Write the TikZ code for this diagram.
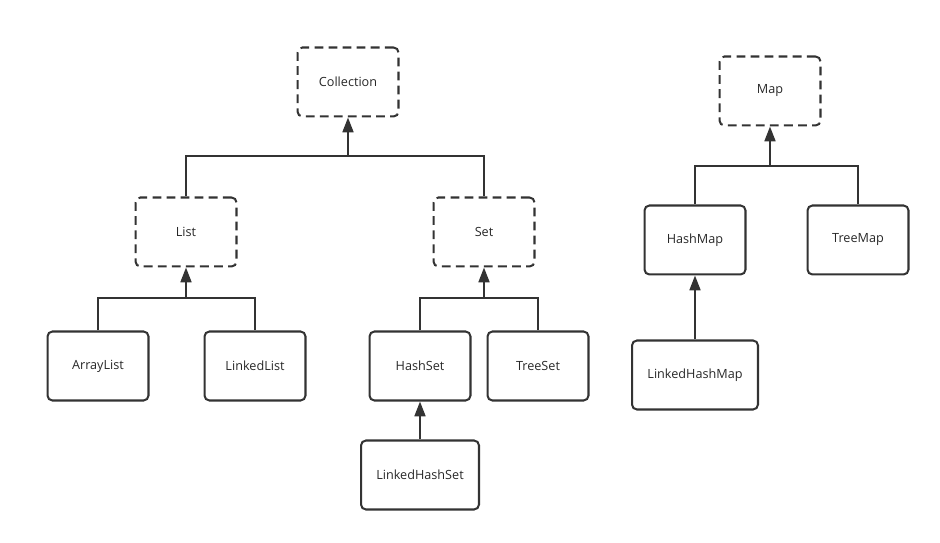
\documentclass[tikz,border=0pt]{standalone}
\usepackage{fontspec}
\setmainfont{Open Sans}
\usepackage{tikz}
\usetikzlibrary{arrows.meta}
\definecolor{Cline}{RGB}{51,51,51}
\definecolor{Ctext}{RGB}{40,40,40}
\tikzset{
  cls/.style={draw=Cline, line width=1.15pt, rounded corners=2.8pt,
    minimum width=2.02cm, minimum height=1.38cm, text=Ctext,
    font=\fontsize{7.2}{8}\selectfont, inner sep=0pt},
  iface/.style={cls, dash pattern=on 5pt off 3pt},
  link/.style={draw=Cline, line width=1.15pt},
  inherit/.style={link, -{Triangle[width=6.2pt,length=8.4pt]}}
}
\begin{document}
\begin{tikzpicture}[x=0.02cm,y=-0.02cm]
  \useasboundingbox (0,0) rectangle (940,543);

  % ------------------------------------------------
  % Collection side
  % ------------------------------------------------
  \node[iface] (collection) at (348,82) {Collection};
  \node[iface] (list) at (186,232) {List};
  \node[iface] (set)  at (484,232) {Set};

  \node[cls] (arraylist)  at (98,366)  {ArrayList};
  \node[cls] (linkedlist) at (255,366) {LinkedList};
  \node[cls] (hashset)    at (420,366) {HashSet};
  \node[cls] (treeset)    at (538,366) {TreeSet};
  \node[cls, minimum width=2.36cm] (linkedhashset) at (420,475) {LinkedHashSet};

  % ------------------------------------------------
  % Map side
  % ------------------------------------------------
  \node[iface] (map) at (770,91) {Map};
  \node[cls] (hashmap) at (695,240) {HashMap};
  \node[cls] (treemap) at (858,240) {TreeMap};
  \node[cls, minimum width=2.52cm] (linkedhashmap) at (695,375) {LinkedHashMap};

  % bus points
  \coordinate (colbus)  at (348,156);
  \coordinate (listbus) at (186,298);
  \coordinate (setbus)  at (484,298);
  \coordinate (mapbus)  at (770,166);

  % connectors
  \draw[link] (list.north) |- (colbus) -| (set.north);
  \draw[inherit] (colbus) -- (collection.south);

  \draw[link] (arraylist.north) |- (listbus) -| (linkedlist.north);
  \draw[inherit] (listbus) -- (list.south);

  \draw[link] (hashset.north) |- (setbus) -| (treeset.north);
  \draw[inherit] (setbus) -- (set.south);
  \draw[inherit] (linkedhashset.north) -- (hashset.south);

  \draw[link] (hashmap.north) |- (mapbus) -| (treemap.north);
  \draw[inherit] (mapbus) -- (map.south);
  \draw[inherit] (linkedhashmap.north) -- (hashmap.south);
\end{tikzpicture}
\end{document}
